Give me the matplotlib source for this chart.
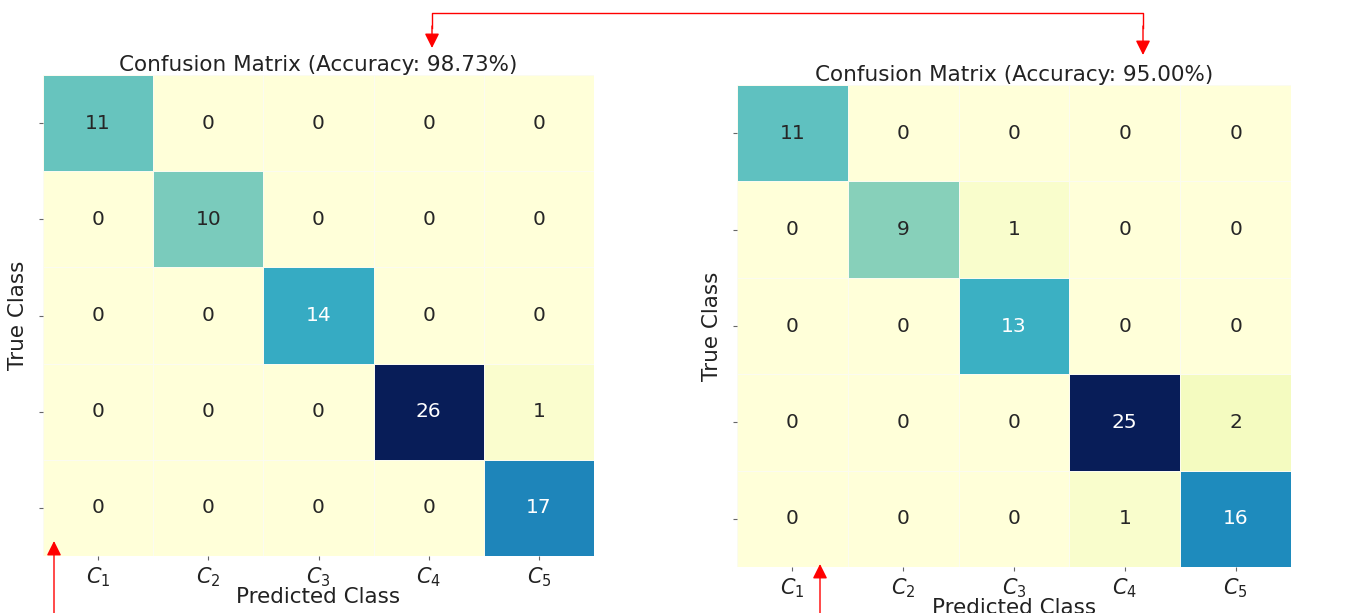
import matplotlib
matplotlib.use("Agg")
import matplotlib.pyplot as plt
import numpy as np
import seaborn as sns
from matplotlib.lines import Line2D

# Class labels
classes = [r"$C_1$", r"$C_2$", r"$C_3$", r"$C_4$", r"$C_5$"]

# Confusion matrices
cm_left = np.array([
    [11, 0, 0, 0, 0],
    [0, 10, 0, 0, 0],
    [0, 0, 14, 0, 0],
    [0, 0, 0, 26, 1],
    [0, 0, 0, 0, 17],
])
cm_right = np.array([
    [11, 0, 0, 0, 0],
    [0, 9, 1, 0, 0],
    [0, 0, 13, 0, 0],
    [0, 0, 0, 25, 2],
    [0, 0, 0, 1, 16],
])
acc_left = 98.73
acc_right = 95.00

W, H = 1358, 613
fig = plt.figure(figsize=(W / 100, H / 100), dpi=100)

ax1 = fig.add_axes([43 / W, 1 - 556 / H, 551 / W, 481 / H])
ax2 = fig.add_axes([737 / W, 1 - 567 / H, 554 / W, 482 / H])


def draw_cm(ax, cm, acc):
    sns.heatmap(cm, ax=ax, annot=True, fmt="d", cmap="YlGnBu", cbar=False,
                linewidths=0.4, linecolor="#fbfbf0",
                xticklabels=classes, yticklabels=False,
                annot_kws={"fontsize": 14.5})
    ax.set_title(f"Confusion Matrix (Accuracy: {acc:.2f}%)", fontsize=15.5,
                 pad=3, color="#222222")
    ax.set_xlabel("Predicted Class", fontsize=15.5, labelpad=-1, color="#222222")
    ax.set_ylabel("True Class", fontsize=15.5, labelpad=4, color="#222222")
    ax.tick_params(axis="x", labelsize=15, length=3, colors="#666666", labelcolor="#222222")
    ax.set_yticks(np.arange(len(cm)) + 0.5)
    ax.set_yticklabels([])
    ax.tick_params(axis="y", length=3, colors="#666666")


draw_cm(ax1, cm_left, acc_left)
draw_cm(ax2, cm_right, acc_right)

# Red connector between the two accuracy values
red = "#ff0000"
fig.add_artist(Line2D([432, 432, 1143, 1143], [H - 28, H - 13, H - 13, H - 28],
                      transform=None, color=red, lw=1))
for x0, y_tip in [(432, 48), (1143, 55)]:
    fig.add_artist(plt.Annotation("", xy=(x0, H - y_tip), xytext=(x0, H - 26),
                                  xycoords="figure pixels", textcoords="figure pixels",
                                  arrowprops=dict(arrowstyle="-|>", color=red, lw=1,
                                                  mutation_scale=22, shrinkA=0, shrinkB=0)))

# Arrows from the bottom edge
for x0, y_tip in [(54, 541), (820, 564)]:
    fig.add_artist(plt.Annotation("", xy=(x0, H - y_tip), xytext=(x0, 0),
                                  xycoords="figure pixels", textcoords="figure pixels",
                                  arrowprops=dict(arrowstyle="-|>", color=red, lw=1,
                                                  mutation_scale=22, shrinkA=0, shrinkB=0)))

fig.savefig("out.png", dpi=100)
